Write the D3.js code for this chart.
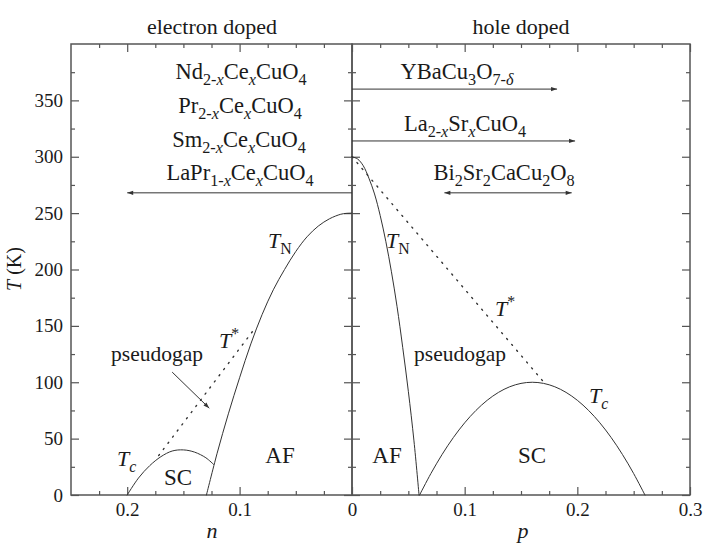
<!DOCTYPE html>
<html><head><meta charset="utf-8">
<script src="https://cdn.jsdelivr.net/npm/d3@7"></script>
<style>
html,body{margin:0;padding:0;background:#fff;}
</style></head>
<body><svg id="c" width="709" height="550"></svg>
<script>
// ---------- data ----------
// electron doped: Neel temperature T_N(n)
const tnElecN = [0, 0.005, 0.01, 0.02, 0.03, 0.04, 0.05, 0.06, 0.07, 0.08, 0.09, 0.10, 0.11, 0.12, 0.1295];
const tnElecT = [250, 249.8, 249, 245, 238.5, 229, 216, 200, 182, 160, 134, 104, 72, 37, 0];
// electron doped: superconducting dome T_c(n)
const tcElecN = [0.2, 0.19, 0.18, 0.17, 0.16, 0.15, 0.14, 0.13, 0.123];
const tcElecT = [0, 15, 26, 34, 39, 40, 38, 33, 27];
// electron doped: pseudogap T*(n)
const tsElecN = [0.172, 0.087];
const tsElecT = [35, 147];
// hole doped: T_N(p)
const tnHoleP = [0, 0.005, 0.01, 0.015, 0.02, 0.025, 0.03, 0.035, 0.04, 0.045, 0.05, 0.055, 0.0595];
const tnHoleT = [300, 298, 292, 281, 267, 248, 225, 198, 167, 131, 92, 48, 0];
// hole doped: T*(p)
const tsHoleP = [0, 0.172];
const tsHoleT = [300, 98];
// hole doped: T_c(p)
const tcHoleP = [0.06, 0.07, 0.08, 0.09, 0.10, 0.11, 0.12, 0.13, 0.14, 0.15, 0.16, 0.17, 0.18, 0.19, 0.20, 0.21, 0.22, 0.23, 0.24, 0.25, 0.26];
const tcHoleT = [0, 19, 36, 51, 64, 75, 84, 91, 96, 99, 100, 99, 96, 91, 84, 75, 64, 51, 36, 19, 0];
// doping-range arrows [from, to, T]
const elecArrow = [0, 0.2, 268];
const ybcoArrow = [0, 0.182, 360];
const lscoArrow = [0, 0.198, 314];
const bsccoArrow = [0.082, 0.195, 268];
// ticks
const yTicks = [0, 50, 100, 150, 200, 250, 300, 350];
const yMinorTicks = [25, 75, 125, 175, 225, 275, 325, 375];
const nTicks = [0.2, 0.1, 0];
const nMinorTicks = [0.225, 0.175, 0.15, 0.125, 0.075, 0.05, 0.025];
const pTicks = [0.1, 0.2, 0.3];
const pMinorTicks = [0.025, 0.05, 0.075, 0.125, 0.15, 0.175, 0.225, 0.25, 0.275];

// ---------- scales ----------
const FONT = "'Liberation Serif', 'Times New Roman', 'DejaVu Serif', serif";
const svg = d3.select("#c");
const xL = d3.scaleLinear().domain([0.25, 0]).range([71, 352]);
const xR = d3.scaleLinear().domain([0, 0.3]).range([352, 690]);
const y = d3.scaleLinear().domain([0, 400]).range([495, 44]);
const FRAME = "#555", LINE = "#333", TXT = "#1a1a1a";

// rich text helper
function rich(sel, segs, size) {
  let shift = 0;
  segs.forEach(s => {
    const small = s.sub || s.sup;
    const target = s.sub ? size * 0.25 : s.sup ? -size * 0.42 : 0;
    sel.append("tspan").text(s.t)
      .attr("dy", target - shift)
      .style("font-family", FONT)
      .style("font-size", (small ? size * 0.72 : size) + "px")
      .style("font-style", s.it ? "italic" : "normal");
    shift = target;
  });
  return sel;
}
function label(x, yy, segs, size, anchor) {
  const t = svg.append("text").attr("x", x).attr("y", yy)
    .attr("text-anchor", anchor || "middle")
    .style("font-family", FONT).style("font-size", size + "px").attr("fill", TXT);
  return rich(t, segs, size);
}

// defs: arrowheads
const defs = svg.append("defs");
function marker(id, orient) {
  defs.append("marker").attr("id", id).attr("viewBox", "0 0 10 10")
    .attr("refX", 10).attr("refY", 5).attr("markerWidth", 9).attr("markerHeight", 6)
    .attr("markerUnits", "userSpaceOnUse").attr("orient", orient)
    .append("path").attr("d", "M0,1.5L10,5L0,8.5Z").attr("fill", LINE);
}
marker("ah", "auto");
marker("ahs", "auto-start-reverse");

// ---------- axes / ticks ----------
function ticks(axisFn, scale, vals, size, fmt, transform) {
  const a = axisFn(scale).tickValues(vals).tickSizeInner(size).tickSizeOuter(0)
    .tickFormat(fmt || "").tickPadding(8);
  const g = svg.append("g").attr("transform", transform).call(a);
  g.attr("font-family", null).attr("font-size", null);
  g.select(".domain").remove();
  g.selectAll(".tick line").attr("stroke", FRAME).attr("stroke-width", 1.2);
  g.selectAll(".tick text").style("font-size", "19px").attr("fill", TXT)
    .style("font-family", FONT);
  return g;
}
const yfmt = d3.format("d");
// left axis of left panel
ticks(d3.axisLeft, y, yTicks, -8, yfmt, "translate(71,0)");
ticks(d3.axisLeft, y, yMinorTicks, -4, null, "translate(71,0)");
// divider: both sides
ticks(d3.axisLeft, y, yTicks, 8, null, "translate(352,0)");
ticks(d3.axisLeft, y, yTicks, -8, null, "translate(352,0)");
ticks(d3.axisLeft, y, yMinorTicks, 4, null, "translate(352,0)");
ticks(d3.axisLeft, y, yMinorTicks, -4, null, "translate(352,0)");
// right axis
ticks(d3.axisRight, y, yTicks, -8, null, "translate(690,0)");
ticks(d3.axisRight, y, yMinorTicks, -4, null, "translate(690,0)");
// bottom
const nfmt = d => d === 0 ? "0" : d3.format(".1f")(d);
ticks(d3.axisBottom, xL, nTicks, -8, nfmt, "translate(0,495)");
ticks(d3.axisBottom, xL, nMinorTicks, -4, null, "translate(0,495)");
ticks(d3.axisBottom, xR, pTicks, -8, d3.format(".1f"), "translate(0,495)");
ticks(d3.axisBottom, xR, pMinorTicks, -4, null, "translate(0,495)");
// top
ticks(d3.axisTop, xL, nTicks, -8, null, "translate(0,44)");
ticks(d3.axisTop, xL, nMinorTicks, -4, null, "translate(0,44)");
ticks(d3.axisTop, xR, pTicks, -8, null, "translate(0,44)");
ticks(d3.axisTop, xR, pMinorTicks, -4, null, "translate(0,44)");

// frames
svg.append("rect").attr("x", xL(0.25)).attr("y", y(400))
  .attr("width", xL(0) - xL(0.25)).attr("height", y(0) - y(400))
  .attr("fill", "none").attr("stroke", FRAME).attr("stroke-width", 1.5);
svg.append("rect").attr("x", xR(0)).attr("y", y(400))
  .attr("width", xR(0.3) - xR(0)).attr("height", y(0) - y(400))
  .attr("fill", "none").attr("stroke", FRAME).attr("stroke-width", 1.5);

// ---------- curves ----------
function curve(xs, ts, sc, dotted, curveType) {
  const pts = xs.map((v, i) => [sc(v), y(ts[i])]);
  svg.append("path").attr("d", d3.line().curve(curveType || d3.curveMonotoneX)(pts))
    .attr("fill", "none").attr("stroke", LINE).attr("stroke-width", dotted ? 1.4 : 1)
    .attr("stroke-dasharray", dotted ? "1.2,6.5" : null).attr("stroke-linecap", "round");
}
curve(tnElecN, tnElecT, xL, false, d3.curveCatmullRom);
curve(tcElecN, tcElecT, xL, false, d3.curveCatmullRom);
curve(tsElecN, tsElecT, xL, true, d3.curveLinear);
curve(tnHoleP, tnHoleT, xR, false, d3.curveCatmullRom);
curve(tsHoleP, tsHoleT, xR, true, d3.curveLinear);
curve(tcHoleP, tcHoleT, xR, false, d3.curveCatmullRom);

// ---------- arrows ----------
function arrow(x1, y1, x2, y2, both) {
  svg.append("line").attr("x1", x1).attr("y1", y1).attr("x2", x2).attr("y2", y2)
    .attr("stroke", LINE).attr("stroke-width", 1)
    .attr("marker-end", "url(#ah)").attr("marker-start", both ? "url(#ahs)" : null);
}
arrow(xL(elecArrow[0]), y(elecArrow[2]), xL(elecArrow[1]), y(elecArrow[2]));
arrow(xR(ybcoArrow[0]), y(ybcoArrow[2]), xR(ybcoArrow[1]), y(ybcoArrow[2]));
arrow(xR(lscoArrow[0]), y(lscoArrow[2]), xR(lscoArrow[1]), y(lscoArrow[2]));
arrow(xR(bsccoArrow[0]), y(bsccoArrow[2]), xR(bsccoArrow[1]), y(bsccoArrow[2]), true);
// pseudogap pointer (electron side)
arrow(xL(0.160), y(109), xL(0.127), y(77));

// ---------- text ----------
const S = 22.5;
label(212, 34, [{t: "electron doped"}], 22);
label(521, 34, [{t: "hole doped"}], 22);
label(241, 79, [{t: "Nd"}, {t: "2-", sub: 1}, {t: "x", sub: 1, it: 1}, {t: "Ce"}, {t: "x", sub: 1, it: 1}, {t: "CuO"}, {t: "4", sub: 1}], S);
label(240, 113, [{t: "Pr"}, {t: "2-", sub: 1}, {t: "x", sub: 1, it: 1}, {t: "Ce"}, {t: "x", sub: 1, it: 1}, {t: "CuO"}, {t: "4", sub: 1}], S);
label(239, 147, [{t: "Sm"}, {t: "2-", sub: 1}, {t: "x", sub: 1, it: 1}, {t: "Ce"}, {t: "x", sub: 1, it: 1}, {t: "CuO"}, {t: "4", sub: 1}], S);
label(240, 180, [{t: "LaPr"}, {t: "1-", sub: 1}, {t: "x", sub: 1, it: 1}, {t: "Ce"}, {t: "x", sub: 1, it: 1}, {t: "CuO"}, {t: "4", sub: 1}], S);
label(457, 79, [{t: "YBaCu"}, {t: "3", sub: 1}, {t: "O"}, {t: "7-", sub: 1}, {t: "δ", sub: 1, it: 1}], S);
label(465, 131, [{t: "La"}, {t: "2-", sub: 1}, {t: "x", sub: 1, it: 1}, {t: "Sr"}, {t: "x", sub: 1, it: 1}, {t: "CuO"}, {t: "4", sub: 1}], S);
label(504, 180, [{t: "Bi"}, {t: "2", sub: 1}, {t: "Sr"}, {t: "2", sub: 1}, {t: "CaCu"}, {t: "2", sub: 1}, {t: "O"}, {t: "8", sub: 1}], S);

// phase labels
label(268, 248, [{t: "T", it: 1}, {t: "N", sub: 1}], 22, "start");
label(386, 248, [{t: "T", it: 1}, {t: "N", sub: 1}], 22, "start");
label(219, 348, [{t: "T", it: 1}, {t: "*", sup: 1}], 22, "start");
label(495, 316, [{t: "T", it: 1}, {t: "*", sup: 1}], 22, "start");
label(157, 361, [{t: "pseudogap"}], 21.5);
label(460, 361, [{t: "pseudogap"}], 21.5);
label(117, 466, [{t: "T", it: 1}, {t: "c", sub: 1, it: 1}], 22, "start");
label(589, 403, [{t: "T", it: 1}, {t: "c", sub: 1, it: 1}], 22, "start");
label(178, 485, [{t: "SC"}], 23);
label(532, 463, [{t: "SC"}], 23);
label(280, 463, [{t: "AF"}], 23);
label(387, 463, [{t: "AF"}], 23);

// axis titles
label(212, 538, [{t: "n", it: 1}], 22);
label(523, 538, [{t: "p", it: 1}], 22);
const yl = svg.append("text").attr("transform", "translate(21,269) rotate(-90)")
  .attr("text-anchor", "middle").style("font-family", FONT).style("font-size", "20px").attr("fill", TXT);
rich(yl, [{t: "T", it: 1}, {t: " (K)"}], 20);
</script></body></html>
